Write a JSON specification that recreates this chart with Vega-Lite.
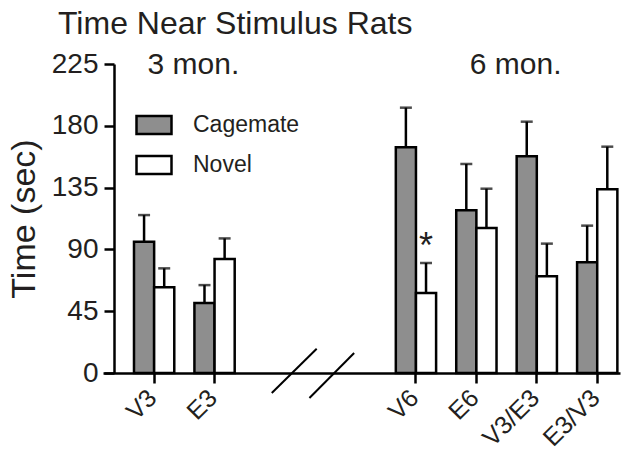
{
  "$schema": "https://vega.github.io/schema/vega-lite/v6.json",
  "autosize": {"type": "none"},
  "padding": {"left": 103, "top": 64, "right": 12, "bottom": 79},
  "width": 517,
  "height": 309,
  "background": "white",
  "config": {
    "view": {"stroke": null},
    "font": "Liberation Sans",
    "axis": {"grid": false, "domainColor": "black", "tickColor": "black", "labelColor": "#231f20", "titleColor": "#231f20", "labelFont": "Liberation Sans", "titleFont": "Liberation Sans", "titleFontWeight": "normal"},
    "legend": {"labelFont": "Liberation Sans"}
  },
  "title": {"text": "Time Near Stimulus Rats", "anchor": "start", "frame": "group", "dx": -45, "offset": 9, "fontSize": 32, "fontWeight": "normal", "font": "Liberation Sans", "color": "#231f20"},
  "datasets": {
    "bars": [
      {"slot": "V3 Cagemate", "group": "V3", "series": "Cagemate", "time": 95.6, "upper": 115},
      {"slot": "V3 Novel", "group": "V3", "series": "Novel", "time": 62.4, "upper": 76.2},
      {"slot": "E3 Cagemate", "group": "E3", "series": "Cagemate", "time": 51, "upper": 64},
      {"slot": "E3 Novel", "group": "E3", "series": "Novel", "time": 83, "upper": 98},
      {"slot": "V6 Cagemate", "group": "V6", "series": "Cagemate", "time": 164.4, "upper": 193.2},
      {"slot": "V6 Novel", "group": "V6", "series": "Novel", "time": 58.3, "upper": 80.1},
      {"slot": "E6 Cagemate", "group": "E6", "series": "Cagemate", "time": 118.5, "upper": 152.2},
      {"slot": "E6 Novel", "group": "E6", "series": "Novel", "time": 105.6, "upper": 134.2},
      {"slot": "V3/E3 Cagemate", "group": "V3/E3", "series": "Cagemate", "time": 157.8, "upper": 183},
      {"slot": "V3/E3 Novel", "group": "V3/E3", "series": "Novel", "time": 70.4, "upper": 94.2},
      {"slot": "E3/V3 Cagemate", "group": "E3/V3", "series": "Cagemate", "time": 80.6, "upper": 107.3},
      {"slot": "E3/V3 Novel", "group": "E3/V3", "series": "Novel", "time": 133.8, "upper": 164.8}
    ],
    "notes": [
      {"label": "3 mon.", "slot": "V3 Cagemate", "time": 218},
      {"label": "6 mon.", "slot": "E6 Cagemate", "time": 218}
    ],
    "star": [
      {"label": "*", "slot": "V6 Novel", "time": 84}
    ],
    "breaks": [
      {"a": 6.84, "b": 9.07, "lo": -14.6, "hi": 17.7},
      {"a": 8.71, "b": 10.93, "lo": -18.2, "hi": 14.6}
    ]
  },
  "resolve": {"scale": {"x": "independent"}},
  "layer": [
    {
      "layer": [
        {
          "data": {"name": "bars"},
          "mark": {"type": "bar", "stroke": "black", "strokeWidth": 2.5},
          "encoding": {
            "x": {
              "field": "slot", "type": "nominal", "sort": null,
              "scale": {
                "domain": ["V3 Cagemate", "V3 Novel", "gap 1", "E3 Cagemate", "E3 Novel", "gap 2", "gap 3", "gap 4", "gap 5", "gap 6", "gap 7", "gap 8", "gap 9", "V6 Cagemate", "V6 Novel", "gap 10", "E6 Cagemate", "E6 Novel", "gap 11", "V3/E3 Cagemate", "V3/E3 Novel", "gap 12", "E3/V3 Cagemate", "E3/V3 Novel"],
                "paddingInner": 0, "paddingOuter": 0.835, "align": 0.9216
              },
              "axis": {
                "title": null,
                "values": ["V3 Cagemate", "E3 Cagemate", "V6 Cagemate", "E6 Cagemate", "V3/E3 Cagemate", "E3/V3 Cagemate"],
                "labelExpr": "split(datum.value, ' ')[0]",
                "bandPosition": 1,
                "labelAngle": -45, "labelAlign": "right", "labelBaseline": "top",
                "labelFontSize": 25, "labelPadding": 2,
                "tickSize": 10, "tickWidth": 2.5, "domainWidth": 2.5
              }
            },
            "y": {
              "field": "time", "type": "quantitative",
              "scale": {"domain": [0, 225], "nice": false},
              "axis": {
                "title": "Time (sec)", "titleFontSize": 34, "titlePadding": 10,
                "values": [0, 45, 90, 135, 180, 225],
                "labelFontSize": 28, "labelPadding": 6,
                "tickSize": 10, "tickWidth": 2.5, "domainWidth": 2.5,
                "offset": -11
              }
            },
            "fill": {
              "field": "series", "type": "nominal",
              "scale": {"domain": ["Cagemate", "Novel"], "range": ["#8e8e8e", "#ffffff"]},
              "legend": {
                "title": null, "orient": "none", "legendX": 32, "legendY": 42,
                "symbolType": "M-1,-0.514H1V0.514H-1Z", "symbolSize": 1225,
                "symbolStrokeColor": "black", "symbolStrokeWidth": 2.5,
                "labelFontSize": 23, "labelColor": "#231f20", "labelOffset": 20,
                "rowPadding": 7
              }
            }
          }
        },
        {
          "data": {"name": "bars"},
          "mark": {"type": "rule", "color": "black", "strokeWidth": 2.5},
          "encoding": {
            "x": {"field": "slot", "type": "nominal", "sort": null},
            "y": {"field": "time", "type": "quantitative"},
            "y2": {"field": "upper"}
          }
        },
        {
          "data": {"name": "bars"},
          "mark": {"type": "tick", "color": "black", "thickness": 2.5, "size": 12, "orient": "horizontal"},
          "encoding": {
            "x": {"field": "slot", "type": "nominal", "sort": null},
            "y": {"field": "upper", "type": "quantitative"}
          }
        },
        {
          "data": {"name": "notes"},
          "mark": {"type": "text", "align": "left", "baseline": "alphabetic", "fontSize": 30, "dx": 3.5, "color": "#231f20", "font": "Liberation Sans"},
          "encoding": {
            "x": {"field": "slot", "type": "nominal", "sort": null},
            "y": {"field": "time", "type": "quantitative"},
            "text": {"field": "label"}
          }
        },
        {
          "data": {"name": "star"},
          "mark": {"type": "text", "align": "center", "baseline": "alphabetic", "fontSize": 36, "color": "#231f20", "font": "Liberation Sans"},
          "encoding": {
            "x": {"field": "slot", "type": "nominal", "sort": null},
            "y": {"field": "time", "type": "quantitative"},
            "text": {"field": "label"}
          }
        }
      ]
    },
    {
      "data": {"name": "breaks"},
      "mark": {"type": "rule", "color": "black", "strokeWidth": 2},
      "encoding": {
        "x": {"field": "a", "type": "quantitative", "scale": {"domain": [-1.54, 24.13], "nice": false, "zero": false}, "axis": null},
        "x2": {"field": "b"},
        "y": {"field": "lo", "type": "quantitative"},
        "y2": {"field": "hi"}
      }
    }
  ]
}
